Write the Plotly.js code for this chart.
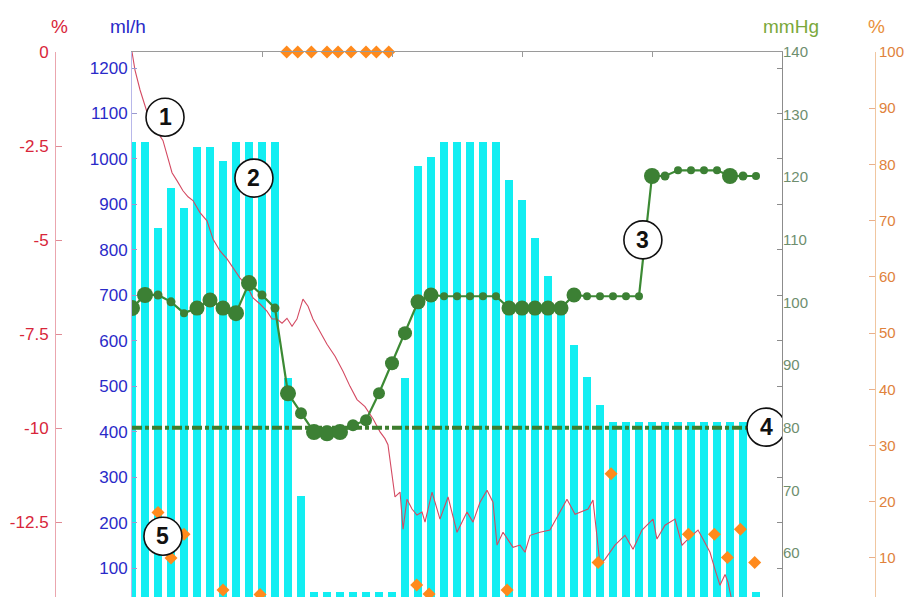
<!DOCTYPE html>
<html><head><meta charset="utf-8">
<script src="https://cdn.plot.ly/plotly-3.0.1.min.js"></script>
<style>html,body{margin:0;padding:0;background:#fff}#chart{width:911px;height:597px}</style>
</head><body><div id="chart"></div>
<script>
// ---- data ----
const barHours = [0,1,2,3,4,5,6,7,8,9,10,11,12,13,14,15,16,17,18,19,20,21,22,23,24,25,26,27,28,29,30,31,32,33,34,35,36,37,38,39,40,41,42,43,44,45,46,47,48];
const infusionMlh = [1037,1037,848,936,892,1026,1026,995,1037,1037,1037,1037,518,258,47,47,47,47,47,47,47,518,985,1004,1037,1037,1037,1037,1037,954,910,826,742,670,591,520,459,421,421,421,421,421,421,421,421,421,421,421,47];

const redHours = [0,0.23,0.62,1.23,1.77,2.38,2.77,3.08,3.46,3.92,4.31,4.69,5.23,5.77,6.23,6.77,7.31,7.77,8.31,8.85,9.31,9.85,10.38,10.77,11.15,11.54,11.92,12.31,12.69,13.15,13.54,13.92,14.46,15.0,15.62,16.23,16.77,17.31,17.92,18.54,19.08,19.46,19.69,20.0,20.23,20.62,20.85,21.15,21.54,21.92,22.31,22.54,23.08,23.69,24.31,25.0,25.77,26.23,26.77,27.31,27.77,28.08,28.54,29.31,29.85,30.23,30.62,31.38,32.15,32.92,33.46,34.08,35.08,35.46,35.77,36.0,36.38,37.15,37.92,38.54,39.23,40.08,40.38,41.0,41.77,42.31,42.92,43.54,43.92,44.46,44.85,45.23,45.62,45.85,46.15,46.92,47.15];
const redPct = [0,-0.48,-1.01,-1.68,-2.03,-2.35,-2.83,-3.21,-3.42,-3.69,-3.85,-3.95,-4.27,-4.49,-4.97,-5.29,-5.50,-5.74,-6.01,-6.22,-6.54,-6.70,-6.89,-7.10,-7.10,-7.21,-7.08,-7.29,-7.10,-6.57,-6.76,-7.10,-7.43,-7.77,-8.09,-8.49,-8.89,-9.24,-9.43,-9.75,-10.10,-10.28,-10.44,-11.24,-11.83,-11.70,-12.69,-11.89,-12.15,-12.31,-12.23,-12.50,-11.70,-12.42,-11.83,-12.77,-12.23,-12.50,-11.97,-11.65,-11.97,-13.11,-12.77,-13.17,-13.11,-13.30,-12.85,-12.77,-12.71,-12.23,-11.89,-12.29,-12.15,-11.91,-12.85,-13.62,-13.49,-13.11,-12.85,-13.22,-12.71,-12.42,-12.95,-12.58,-12.42,-13.11,-12.90,-12.71,-12.95,-13.30,-13.76,-14.18,-13.89,-14.10,-14.60,-14.50,-14.60];

const mapHours = barHours;
const mapMmHg = [99.1,101.2,101.2,100.1,98.3,99.1,100.4,99.1,98.3,103.1,101.2,99.1,85.5,82.3,79.3,79.1,79.3,80.4,81.2,85.5,90.3,95.1,100.1,101.2,101.0,101.0,101.0,101.0,101.0,99.1,99.1,99.1,99.1,99.1,101.2,101.0,101.0,101.0,101.0,101.0,120.2,120.2,121.1,121.1,121.1,121.1,120.2,120.2,120.2];
const mapMarkerSize = [16,16,9,9,8,15,15,15,16,16,9,9,16,12,16,16,16,12,12,12,14,14,15,15,8,8,8,8,8,15,15,15,15,15,15,8,8,8,8,8,16,9,8,8,8,8,16,9,8];

const targetHours = [0, 48.7];
const targetMmHg = [80, 80];

const orangeHours = [11.9,12.75,13.8,15.0,15.85,16.85,18.0,18.8,19.75, 2.0,3.0,4.0,7.0,9.85,21.9,22.85,28.85,35.85,36.85,42.8,44.8,45.8,46.8,47.9];
const orangePct = [100,100,100,100,100,100,100,100,100, 18.1,10.0,14.2,4.3,3.5,5.2,3.6,4.3,9.2,25.0,14.2,14.2,10.1,15.1,9.2];

const calloutLabels = ['1','2','3','4','5'];
const calloutHours = [2.54,9.38,39.3,48.77,2.38];
const calloutMlh = [1092,958,822,410,170];

const yTicksMlh = [100,200,300,400,500,600,700,800,900,1000,1100,1200];
const yTicksRed = [0,-2.5,-5,-7.5,-10,-12.5];
const yTicksRedText = ['0','-2.5','-5','-7.5','-10','-12.5'];
const yTicksMmHg = [60,70,80,90,100,110,120,130,140];
const yTicksOrange = [10,20,30,40,50,60,70,80,90,100];
const xTicks = [10,20,30,40];

// ---- chart ----
const W = 911, H = 597, TOP = 52, PH = 545;
const FONT = 'Liberation Sans, Arial, Helvetica, sans-serif';
const px2paperY = p => 1 + (TOP - p) / PH;

const traces = [
  {type:'bar', x:barHours, y:infusionMlh, width:0.64, marker:{color:'#12eef2', line:{width:0}}, yaxis:'y', hoverinfo:'skip'},
  {type:'scatter', mode:'lines', x:redHours, y:redPct, yaxis:'y2', line:{color:'#d44a62', width:1.1}, hoverinfo:'skip'},
  {type:'scatter', mode:'lines', x:targetHours, y:targetMmHg, yaxis:'y3', line:{color:'#3e7d2e', width:4, dash:'10px,3px,4px,3px'}, hoverinfo:'skip'},
  {type:'scatter', mode:'lines+markers', x:mapHours, y:mapMmHg, yaxis:'y3', line:{color:'#3c8a34', width:2.2}, marker:{color:'#3c8034', size:mapMarkerSize, opacity:1, line:{width:0}}, hoverinfo:'skip'},
  {type:'scatter', mode:'markers', x:orangeHours, y:orangePct, yaxis:'y4', cliponaxis:false, marker:{symbol:'diamond', color:'#ff8a1c', size:10}, hoverinfo:'skip'},
  {type:'scatter', mode:'markers', x:[], y:[], yaxis:'y5', hoverinfo:'skip'}
];

const shapes = calloutHours.map((h,i)=>({
  type:'circle', xref:'x', yref:'y', xsizemode:'pixel', ysizemode:'pixel',
  xanchor:h, yanchor:calloutMlh[i], x0:-19, x1:19, y0:-19, y1:19,
  fillcolor:'#ffffff', line:{color:'#111', width:1.6}, layer:'above'
}));

const titleAnn = (text, xpx, color) => ({text:text, x:xpx/W, y:px2paperY(26), xref:'paper', yref:'paper',
  xanchor:'center', yanchor:'middle', showarrow:false, font:{family:FONT,size:19,color:color}});

const annotations = calloutLabels.map((t,i)=>({
  text:'<b>'+t+'</b>', x:calloutHours[i], y:calloutMlh[i], xref:'x', yref:'y',
  showarrow:false, font:{family:FONT, size:23, color:'#111'}, xanchor:'center', yanchor:'middle'
})).concat([
  titleAnn('%', 59, '#d8263a'),
  titleAnn('ml/h', 128, '#2a2ac8'),
  titleAnn('mmHg', 791, '#7aa83a'),
  titleAnn('%', 876, '#e8903a')
]);

const layout = {
  width:W, height:H, margin:{l:0, r:0, t:TOP, b:0},
  paper_bgcolor:'#fff', plot_bgcolor:'#fff', showlegend:false,
  font:{family:FONT},
  bargap:0,
  xaxis:{domain:[132/W, 782/W], range:[0,50], side:'top', showline:true, linecolor:'#9a9a9a', linewidth:1,
         ticks:'inside', ticklen:5, tickcolor:'#9a9a9a', tickvals:xTicks, showticklabels:false,
         showgrid:false, zeroline:false, fixedrange:true},
  yaxis:{range:[36.3,1235.4], tickvals:yTicksMlh, ticks:'inside', ticklen:5, tickcolor:'#9a9ad0',
         showline:true, linecolor:'#b8b8ea', linewidth:1, tickfont:{family:FONT,size:17,color:'#2a2ac8'},
         showgrid:false, zeroline:false, fixedrange:true},
  yaxis2:{overlaying:'y', anchor:'free', position:55/W, side:'left', range:[-14.49,0],
          tickvals:yTicksRed, ticktext:yTicksRedText, ticks:'inside', ticklen:6, tickcolor:'#e08a94',
          showline:true, linecolor:'#eaa6ae', linewidth:1, tickfont:{family:FONT,size:17,color:'#d8263a'},
          ticklabelstandoff:3, showgrid:false, zeroline:false, fixedrange:true},
  yaxis3:{overlaying:'y', anchor:'x', side:'right', range:[52.97,140], tickvals:yTicksMmHg, ticks:'',
          showline:false, tickfont:{family:FONT,size:15,color:'#6e8e6e'}, showgrid:false, zeroline:false, fixedrange:true},
  yaxis4:{overlaying:'y', anchor:'free', position:875/W, side:'right', range:[3.06,100], tickvals:yTicksOrange,
          ticks:'inside', ticklen:6, tickcolor:'#eab08a', showline:true, linecolor:'#f0c6a0', linewidth:1,
          tickfont:{family:FONT,size:15,color:'#e0823c'}, showgrid:false, zeroline:false, fixedrange:true},
  yaxis5:{overlaying:'y', anchor:'x', side:'right', range:[36.3,1235.4], tickvals:yTicksMlh, ticks:'inside', ticklen:5,
          tickcolor:'#8c8c8c', showticklabels:false, showline:true, linecolor:'#8c8c8c', linewidth:1,
          showgrid:false, zeroline:false, fixedrange:true},
  shapes:shapes, annotations:annotations
};

Plotly.newPlot('chart', traces, layout, {displayModeBar:false, staticPlot:true});
</script>
</body></html>
